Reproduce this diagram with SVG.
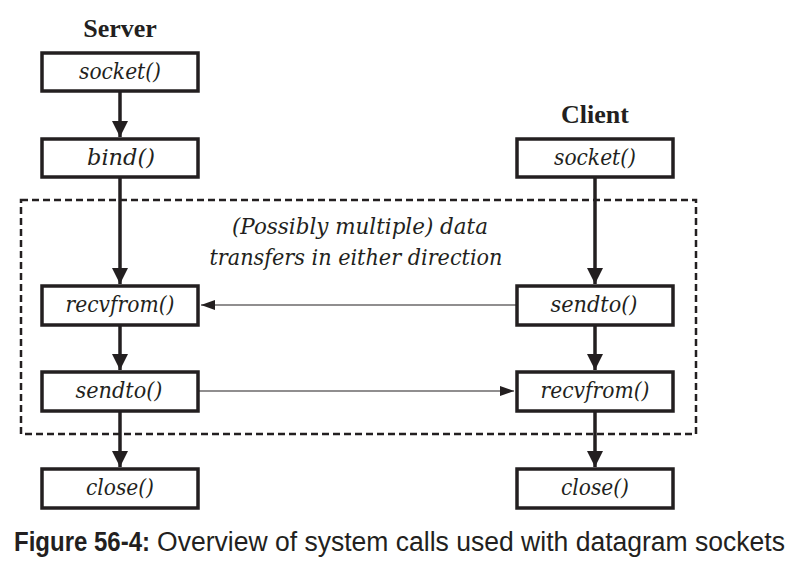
<svg xmlns="http://www.w3.org/2000/svg" width="799" height="565" viewBox="0 0 799 565">
<style>
.box{fill:#fff;stroke:#231f20;stroke-width:3.5}
.lbl{font-family:"DejaVu Serif","Liberation Serif",serif;font-style:italic;font-size:22px;fill:#231f20;text-anchor:middle}
.hdr{font-family:"Liberation Serif",serif;font-weight:bold;font-size:26px;fill:#231f20;text-anchor:middle}
.thick{stroke:#231f20;stroke-width:3.5;fill:none}
.thin{stroke:#231f20;stroke-width:1.2;fill:none}
.cap{font-family:"Liberation Sans",sans-serif;font-size:27px;fill:#231f20}
</style>
<defs>
<marker id="big" markerUnits="userSpaceOnUse" markerWidth="16" markerHeight="20" refX="16" refY="8" orient="auto">
<path d="M0,0 L16,8 L0,16 z" fill="#231f20"/>
</marker>
<marker id="small" markerUnits="userSpaceOnUse" markerWidth="14" markerHeight="10" refX="14" refY="5" orient="auto">
<path d="M0,0 L14,5 L0,10 z" fill="#231f20"/>
</marker>
</defs>
<text class="hdr" x="120" y="37">Server</text>
<text class="hdr" x="595" y="123">Client</text>
<rect x="21" y="200" width="675" height="234" fill="none" stroke="#231f20" stroke-width="2.5" stroke-dasharray="7,4"/>
<text class="lbl" x="360" y="234" textLength="256" lengthAdjust="spacingAndGlyphs">(Possibly multiple) data</text>
<text class="lbl" x="356" y="265" textLength="293" lengthAdjust="spacingAndGlyphs">transfers in either direction</text>
<g id="connectors">
<line class="thick" x1="120" y1="92" x2="120" y2="137" marker-end="url(#big)"/>
<line class="thick" x1="120" y1="177" x2="120" y2="284" marker-end="url(#big)"/>
<line class="thick" x1="120" y1="326" x2="120" y2="370" marker-end="url(#big)"/>
<line class="thick" x1="120" y1="412" x2="120" y2="467" marker-end="url(#big)"/>
<line class="thick" x1="595" y1="178" x2="595" y2="284" marker-end="url(#big)"/>
<line class="thick" x1="595" y1="325" x2="595" y2="370" marker-end="url(#big)"/>
<line class="thick" x1="595" y1="412" x2="595" y2="467" marker-end="url(#big)"/>
<line class="thin" x1="516" y1="305" x2="201" y2="305" marker-end="url(#small)"/>
<line class="thin" x1="199" y1="391" x2="514" y2="391" marker-end="url(#small)"/>
</g>
<g id="s_socket"><rect class="box" x="42" y="53" width="156" height="38"/><text class="lbl" x="120" y="79" textLength="82" lengthAdjust="spacingAndGlyphs">socket()</text></g>
<g id="s_bind"><rect class="box" x="42" y="139" width="156" height="38"/><text class="lbl" x="121" y="165" textLength="68" lengthAdjust="spacingAndGlyphs">bind()</text></g>
<g id="s_recvfrom"><rect class="box" x="42" y="286" width="156" height="39"/><text class="lbl" x="120" y="312" textLength="109" lengthAdjust="spacingAndGlyphs">recvfrom()</text></g>
<g id="s_sendto"><rect class="box" x="42" y="372" width="156" height="39"/><text class="lbl" x="119" y="398" textLength="87" lengthAdjust="spacingAndGlyphs">sendto()</text></g>
<g id="s_close"><rect class="box" x="42" y="469" width="156" height="39"/><text class="lbl" x="120" y="495" textLength="68" lengthAdjust="spacingAndGlyphs">close()</text></g>
<g id="c_socket"><rect class="box" x="517" y="139" width="156" height="38"/><text class="lbl" x="595" y="165" textLength="82" lengthAdjust="spacingAndGlyphs">socket()</text></g>
<g id="c_sendto"><rect class="box" x="517" y="286" width="156" height="39"/><text class="lbl" x="594" y="312" textLength="87" lengthAdjust="spacingAndGlyphs">sendto()</text></g>
<g id="c_recvfrom"><rect class="box" x="517" y="372" width="156" height="39"/><text class="lbl" x="595" y="398" textLength="109" lengthAdjust="spacingAndGlyphs">recvfrom()</text></g>
<g id="c_close"><rect class="box" x="517" y="469" width="156" height="39"/><text class="lbl" x="595" y="495" textLength="68" lengthAdjust="spacingAndGlyphs">close()</text></g>
<text class="cap" y="551"><tspan x="14" font-weight="bold" textLength="136" lengthAdjust="spacingAndGlyphs">Figure 56-4:</tspan><tspan x="157" textLength="628" lengthAdjust="spacingAndGlyphs">Overview of system calls used with datagram sockets</tspan></text>
</svg>
